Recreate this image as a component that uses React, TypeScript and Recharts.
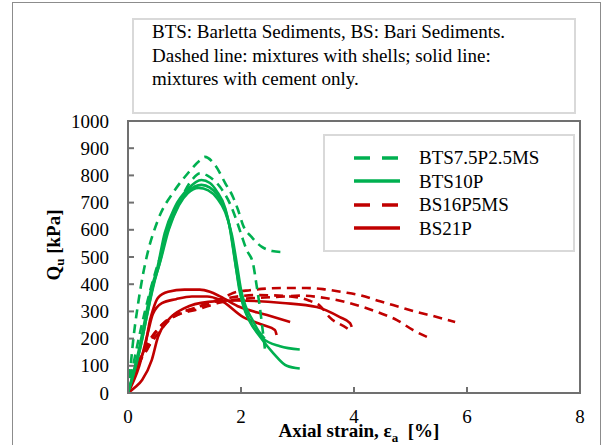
import {
  LineChart,
  Line,
  XAxis,
  YAxis,
  Legend,
  ReferenceArea,
} from 'recharts';

type Pt = [number, number];

const GREEN = '#00B050';
const RED = '#C00000';
const AXIS = '#707070';
const FONT = "'Liberation Serif', 'DejaVu Serif', serif";

// axial strain [%], Qu [kPa]
const btsMs1: Pt[] = [
  [0, 0], [0.04, 85], [0.09, 190], [0.18, 330], [0.27, 441], [0.33, 500], [0.53, 636],
  [0.83, 746], [1.06, 808], [1.27, 855], [1.36, 868], [1.54, 838], [1.72, 772], [1.86, 720],
  [1.95, 672], [2.04, 615], [2.19, 573], [2.37, 537], [2.55, 522], [2.72, 518],
];
const btsMs2: Pt[] = [
  [0, 0], [0.1, 110], [0.3, 300], [0.48, 441], [0.57, 500], [0.71, 599], [0.89, 691],
  [1.13, 783], [1.28, 808], [1.4, 800], [1.63, 757], [1.8, 698], [1.93, 629], [2.02, 573],
  [2.1, 526], [2.21, 478], [2.28, 390], [2.34, 305], [2.39, 220], [2.43, 150],
];
const bts10p1: Pt[] = [
  [0, 0], [0.1, 80], [0.18, 147], [0.3, 268], [0.42, 390], [0.51, 452], [0.65, 588],
  [0.83, 684], [1.06, 750], [1.3, 783], [1.45, 772], [1.57, 742], [1.72, 680], [1.8, 610],
  [1.86, 530], [1.92, 450], [2.0, 360], [2.08, 300], [2.2, 250], [2.39, 200], [2.69, 172],
  [3.04, 160],
];
const bts10p2: Pt[] = [
  [0, 0], [0.12, 85], [0.2, 150], [0.33, 280], [0.45, 400], [0.55, 470], [0.7, 600],
  [0.87, 685], [1.06, 740], [1.3, 765], [1.45, 755], [1.58, 728], [1.72, 675], [1.82, 590],
  [1.9, 480], [1.97, 380], [2.04, 320], [2.15, 265], [2.34, 206], [2.57, 147], [2.81, 100],
  [3.04, 90],
];
const bts10p3: Pt[] = [
  [0, 0], [0.12, 90], [0.22, 170], [0.35, 300], [0.47, 410], [0.58, 490], [0.72, 600],
  [0.9, 690], [1.06, 735], [1.25, 754], [1.42, 745], [1.58, 715], [1.72, 665], [1.84, 580],
  [1.93, 470], [2.0, 380], [2.08, 320], [2.2, 270], [2.32, 225], [2.42, 200],
];
const bs16Ms1: Pt[] = [
  [0, 0], [0.1, 60], [0.21, 125], [0.34, 160], [0.48, 220], [0.65, 261], [0.88, 294],
  [1.13, 308], [1.42, 331], [1.72, 353], [1.86, 368], [2.16, 378], [2.74, 386], [3.16, 386],
  [3.45, 382], [3.8, 371], [4.1, 360], [4.46, 337], [4.81, 316], [5.11, 298], [5.4, 283],
  [5.79, 261],
];
const bs16Ms2: Pt[] = [
  [0, 0], [0.15, 90], [0.3, 150], [0.5, 210], [0.78, 276], [1.31, 312], [1.59, 331],
  [2.0, 345], [2.63, 353], [3.04, 358], [3.4, 352], [3.84, 335], [4.16, 316], [4.46, 294],
  [4.76, 268], [5.04, 232], [5.38, 198],
];
const bs16Ms3: Pt[] = [
  [0, 0], [0.2, 110], [0.4, 200], [0.6, 250], [0.9, 290], [1.3, 320], [1.8, 350],
  [2.3, 360], [2.87, 355], [3.2, 340], [3.4, 320], [3.58, 276], [3.87, 239], [3.96, 224],
];
const bs21p1: Pt[] = [
  [0, 0], [0.04, 22], [0.18, 110], [0.3, 169], [0.39, 268], [0.44, 305], [0.53, 350],
  [0.71, 372], [1.0, 380], [1.27, 380], [1.45, 372], [1.63, 355], [1.98, 316], [2.46, 287],
  [2.87, 261],
];
const bs21p2: Pt[] = [
  [0, 0], [0.2, 100], [0.35, 220], [0.44, 290], [0.6, 330], [0.85, 345], [1.13, 355],
  [1.4, 355], [1.63, 342], [2.04, 279], [2.39, 250], [2.6, 232], [2.63, 213],
];
const bs21p3: Pt[] = [
  [0, 0], [0.12, 20], [0.25, 48], [0.42, 121], [0.53, 206], [0.71, 268], [1.0, 312],
  [1.42, 335], [1.9, 340], [2.74, 331], [3.34, 316], [3.75, 279], [3.93, 257], [3.96, 243],
];

const xTicks = [0, 2, 4, 6, 8];
const yTicks = [0, 100, 200, 300, 400, 500, 600, 700, 800, 900, 1000];

const groups = [
  { name: 'BTS7.5P2.5MS', color: GREEN, dashed: true },
  { name: 'BTS10P', color: GREEN, dashed: false },
  { name: 'BS16P5MS', color: RED, dashed: true },
  { name: 'BS21P', color: RED, dashed: false },
];

// red first so the green curves sit on top, as in the original
const curves = [
  { id: 'bs16-1', group: 2, pts: bs16Ms1 },
  { id: 'bs16-2', group: 2, pts: bs16Ms2 },
  { id: 'bs16-3', group: 2, pts: bs16Ms3 },
  { id: 'bs21-1', group: 3, pts: bs21p1 },
  { id: 'bs21-2', group: 3, pts: bs21p2 },
  { id: 'bs21-3', group: 3, pts: bs21p3 },
  { id: 'bts75-1', group: 0, pts: btsMs1 },
  { id: 'bts75-2', group: 0, pts: btsMs2 },
  { id: 'bts10-1', group: 1, pts: bts10p1 },
  { id: 'bts10-2', group: 1, pts: bts10p2 },
  { id: 'bts10-3', group: 1, pts: bts10p3 },
];

const XTick = (props: any) => {
  const { x, y, payload } = props;
  return (
    <g>
      <line x1={x} y1={y} x2={x} y2={y - 6} stroke={AXIS} strokeWidth={2} />
      <text x={x} y={y + 23} dy="0.35em" textAnchor="middle" fontFamily={FONT} fontSize={19} fill="#000">
        {payload.value}
      </text>
    </g>
  );
};

const YTick = (props: any) => {
  const { x, y, payload } = props;
  const ax = x + 19;
  return (
    <g>
      <line x1={ax} y1={y} x2={ax + 6} y2={y} stroke={AXIS} strokeWidth={2} />
      <text x={x} y={y} dy="0.35em" textAnchor="end" fontFamily={FONT} fontSize={19} fill="#000">
        {payload.value}
      </text>
    </g>
  );
};

const LegendBox = () => (
  <div
    style={{
      width: 252,
      height: 118,
      boxSizing: 'border-box',
      border: '2px solid #d9d9d9',
      background: '#fff',
      paddingTop: 10,
      fontFamily: FONT,
      fontSize: 19,
    }}
  >
    {groups.map((g) => (
      <div key={g.name} style={{ display: 'flex', alignItems: 'center', height: 23.5 }}>
        <svg width={94} height={10} style={{ flex: 'none' }}>
          <line
            x1={29}
            y1={5}
            x2={75}
            y2={5}
            stroke={g.color}
            strokeWidth={3.5}
            strokeDasharray={g.dashed ? '16 12' : undefined}
          />
        </svg>
        <span style={{ lineHeight: 1 }}>{g.name}</span>
      </div>
    ))}
  </div>
);

export default function App() {
  return (
    <div
      style={{
        position: 'absolute',
        left: 0,
        top: 0,
        width: 603,
        height: 445,
        overflow: 'hidden',
        background: '#fff',
        fontFamily: FONT,
      }}
    >
      <div
        style={{
          position: 'absolute',
          left: 12,
          top: 2,
          width: 587,
          height: 480,
          border: '1.5px solid #8c8c8c',
        }}
      />
      <LineChart
        width={603}
        height={445}
        margin={{ top: 121, right: 23, bottom: 22, left: 68 }}
        style={{ fontFamily: FONT }}
      >
        <XAxis
          dataKey="x"
          type="number"
          domain={[0, 8]}
          ticks={xTicks}
          allowDataOverflow
          height={30}
          tickSize={0}
          tickMargin={0}
          tick={<XTick />}
          tickLine={false}
          axisLine={{ stroke: AXIS, strokeWidth: 2 }}
        />
        <YAxis
          type="number"
          domain={[0, 1000]}
          ticks={yTicks}
          width={60}
          tickSize={0}
          tickMargin={19}
          tick={<YTick />}
          tickLine={false}
          axisLine={{ stroke: AXIS, strokeWidth: 2 }}
        />
        <ReferenceArea x1={0} x2={8} y1={0} y2={1000} fill="none" stroke={AXIS} strokeWidth={2} />
        {curves.map((c) => {
          const g = groups[c.group];
          return (
            <Line
              key={c.id}
              data={c.pts.map(([x, y]) => ({ x, y }))}
              dataKey="y"
              name={g.name}
              type="monotone"
              stroke={g.color}
              strokeWidth={2.6}
              strokeDasharray={g.dashed ? '9 6' : undefined}
              dot={false}
              activeDot={false}
              isAnimationActive={false}
            />
          );
        })}
        <Legend
          layout="vertical"
          align="center"
          verticalAlign="middle"
          content={<LegendBox />}
          wrapperStyle={{ position: 'absolute', left: 323, top: 134, width: 252, height: 118 }}
        />
      </LineChart>
      <div
        style={{
          position: 'absolute',
          left: 132,
          top: 18,
          width: 444,
          height: 96,
          boxSizing: 'border-box',
          border: '2px solid #d9d9d9',
          background: '#fff',
          paddingLeft: 18,
          fontSize: 19,
          lineHeight: '23.5px',
        }}
      >
        BTS: Barletta Sediments, BS: Bari Sediments.
        <br />
        Dashed line: mixtures with shells; solid line:
        <br />
        mixtures with cement only.
      </div>
      <div
        style={{
          position: 'absolute',
          left: 259,
          top: 419,
          width: 200,
          textAlign: 'center',
          fontSize: 19,
          fontWeight: 'bold',
          whiteSpace: 'pre',
          lineHeight: '24px',
        }}
      >
        Axial strain, ε<sub style={{ fontSize: 13 }}>a</sub>  [%]
      </div>
      <div
        style={{
          position: 'absolute',
          left: 57,
          top: 245,
          transform: 'translate(-50%, -50%) rotate(-90deg)',
          fontSize: 19,
          fontWeight: 'bold',
          whiteSpace: 'pre',
          lineHeight: '24px',
        }}
      >
        Q<sub style={{ fontSize: 13 }}>u</sub> [kPa]
      </div>
    </div>
  );
}
